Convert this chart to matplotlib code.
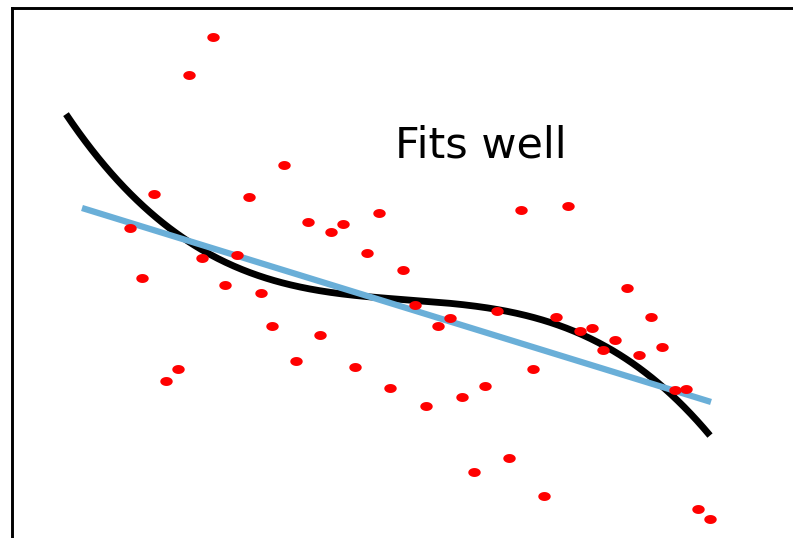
import numpy as np
import matplotlib.pyplot as plt

# scatter sample
x_pts = [213, 189, 284, 154, 249, 130, 308, 331, 343, 379, 521, 568, 367, 237, 202,
         142, 403, 225, 261, 415, 272, 320, 438, 450, 497, 556, 580, 592, 627, 651,
         615, 603, 639, 662, 296, 355, 533, 178, 166, 390, 485, 462, 426, 675, 686,
         509, 474, 544, 698, 710]
y_pts = [501, 463, 373, 344, 341, 310, 316, 306, 314, 325, 328, 332, 285, 283, 280,
         260, 268, 253, 245, 233, 212, 203, 212, 220, 227, 221, 207, 210, 250, 221,
         198, 188, 183, 191, 177, 171, 169, 169, 157, 150, 152, 141, 132, 148, 149,
         80, 66, 42, 29, 19]

# cubic fit in u = (x - 400) / 100, highest power first
cubic_coef = [-4.06, 0.81, -7.44, 238.7]
cubic_range = [66, 710]

# straight-line fit
line_slope = -0.3084
line_icept = 355.3
line_range = [82, 711]

label = "Fits well"

fig = plt.figure(figsize=(7.93, 5.38), dpi=100)
ax = fig.add_axes([12 / 793, -10 / 538, 1.0, 540 / 538])
ax.set_xlim(12, 805)
ax.set_ylim(-10, 530)

xc = np.linspace(cubic_range[0], cubic_range[1], 400)
ax.plot(xc, np.polyval(cubic_coef, (xc - 400) / 100), color='black', lw=4.9,
        solid_capstyle='butt', zorder=2)

xl = np.array(line_range, dtype=float)
ax.plot(xl, line_slope * xl + line_icept, color='#6aafd8', lw=4.5,
        solid_capstyle='butt', zorder=3)

# slightly wide dots
t = np.linspace(0, 2 * np.pi, 40)
ell = np.column_stack([np.cos(t), 0.72 * np.sin(t)])
ax.scatter(x_pts, y_pts, marker=ell, s=80, color='red', linewidths=0, zorder=4)

ax.text(481, 392, label, ha='center', va='center', fontsize=31,
        family='DejaVu Sans', color='black')

ax.set_xticks([])
ax.set_yticks([])
ax.spines['right'].set_visible(False)
ax.spines['bottom'].set_visible(False)
for s in ('left', 'top'):
    ax.spines[s].set_linewidth(2.1)

fig.savefig('out.png', dpi=100)
